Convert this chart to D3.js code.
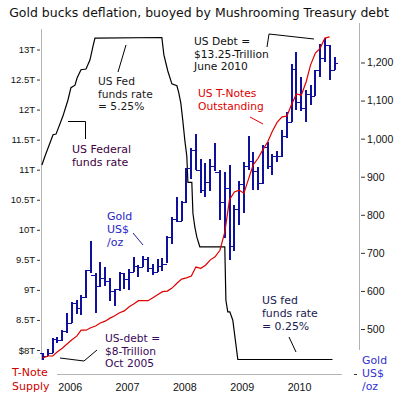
<!DOCTYPE html>
<html>
<head>
<meta charset="utf-8">
<script src="https://cdn.jsdelivr.net/npm/d3@7"></script>
<style>
body { margin: 0; background: #fff; }
svg { display: block; font-family: "DejaVu Sans", Verdana, sans-serif; }
</style>
</head>
<body>
<script>
// monthly gold bars, Jul 2005 .. Aug 2010
var goldOpen = [437, 429, 436, 473, 470, 495,
    517, 569, 556, 583, 654, 643, 614, 633, 625, 599, 604, 646,
    632, 651, 665, 663, 683, 659, 650, 665, 672, 742, 789, 783,
    834, 923, 971, 917, 864, 885, 929, 912, 834, 871, 718, 816,
    882, 927, 942, 916, 883, 979, 927, 955, 955, 1008, 1045, 1182,
    1096, 1081, 1118, 1113, 1179, 1212, 1245, 1181]
var goldHigh = [438, 447, 476, 479, 498, 541,
    572, 575, 589, 654, 730, 646, 676, 664, 634, 606, 649, 648,
    658, 690, 667, 691, 689, 671, 683, 686, 743, 795, 848, 836,
    924, 976, 1011, 946, 935, 946, 988, 917, 913, 930, 826, 889,
    938, 1007, 965, 926, 982, 990, 959, 967, 1023, 1070, 1195, 1227,
    1162, 1127, 1140, 1181, 1249, 1265, 1245, 1215]
var goldLow = [418, 430, 436, 463, 468, 489,
    517, 540, 538, 582, 647, 542, 610, 612, 573, 560, 600, 606,
    603, 649, 637, 663, 650, 642, 649, 653, 673, 723, 782, 784,
    832, 893, 917, 858, 848, 862, 915, 787, 740, 681, 705, 772,
    806, 918, 865, 866, 881, 919, 904, 939, 953, 1003, 1044, 1075,
    1073, 1044, 1088, 1113, 1162, 1202, 1155, 1180]
var goldClose = [429, 436, 473, 470, 495, 517,
    569, 556, 583, 654, 643, 614, 633, 625, 599, 604, 646, 632,
    651, 665, 663, 683, 659, 650, 665, 672, 742, 789, 783, 834,
    923, 971, 917, 864, 885, 929, 912, 834, 871, 718, 816, 882,
    927, 942, 916, 883, 979, 927, 955, 955, 1008, 1045, 1182, 1096,
    1081, 1118, 1113, 1179, 1212, 1245, 1181, 1200]

// T-note supply ($ trillion), monthly Jul 2005 .. Jul 2010
var noteSupply = [7.87, 7.90, 7.90, 7.97, 8.03, 8.10,
    8.17, 8.23, 8.33, 8.33, 8.37, 8.40, 8.45, 8.48, 8.53, 8.57, 8.62, 8.65,
    8.72, 8.77, 8.82, 8.82, 8.82, 8.87, 8.92, 8.97, 8.98, 9.03, 9.11, 9.18,
    9.20, 9.23, 9.38, 9.36, 9.41, 9.50, 9.55, 9.66, 9.96, 10.50, 10.63, 10.66,
    10.61, 10.86, 11.08, 11.19, 11.33, 11.46, 11.64, 11.79, 11.88, 11.89, 12.09, 12.26,
    12.24, 12.46, 12.74, 12.94, 13.02, 13.19, 13.21]

// fed funds rate path (%)
var fedDates = ['2005-07-08', '2005-07-28', '2005-09-17', '2005-10-06', '2005-11-19', '2005-12-21',
    '2006-01-09', '2006-02-04', '2006-02-17', '2006-03-14', '2006-04-15', '2006-05-10', '2006-05-30',
    '2006-06-11', '2007-08-11', '2007-08-24', '2007-09-18', '2007-10-14', '2007-11-15', '2007-11-27',
    '2007-12-10', '2007-12-23', '2008-01-05', '2008-01-17', '2008-01-24', '2008-02-18', '2008-02-25',
    '2008-03-08', '2008-03-21', '2008-04-09', '2008-09-15', '2008-09-22', '2008-10-04', '2008-10-17',
    '2008-11-05', '2008-12-07', '2010-08-02']
var fedRates = [3.27, 3.41, 3.74, 3.75, 4.03, 4.28,
    4.47, 4.51, 4.62, 4.75, 4.76, 4.90, 5.12,
    5.24, 5.25, 4.98, 4.73, 4.53, 4.50, 4.39,
    4.23, 3.95, 3.64, 3.41, 3.00, 3.00, 2.52,
    2.31, 2.15, 2.00, 2.00, 1.17, 0.99, 0.99,
    0.86, 0.25, 0.25]

var debtTicks = [8, 8.5, 9, 9.5, 10, 10.5, 11, 11.5, 12, 12.5, 13]
var goldTicks = [500, 600, 700, 800, 900, 1000, 1100, 1200]
var yearTicks = [2006, 2007, 2008, 2009, 2010]

var title = 'Gold bucks deflation, buoyed by Mushrooming Treasury debt'

var parse = d3.timeParse('%Y-%m-%d')
var goldDates = d3.range(goldHigh.length).map(function (i) { return new Date(2005, 6 + i, 15) })
var noteDates = d3.range(noteSupply.length).map(function (i) { return new Date(2005, 6 + i, 15) })

var x = d3.scaleTime().domain([new Date(2005, 6, 1), new Date(2010, 8, 1)]).range([40.8, 337.2])
var yDebt = d3.scaleLinear().domain([8, 13]).range([350, 49.5])
var yGold = d3.scaleLinear().domain([500, 1200]).range([329, 62.5])
var yFed = d3.scaleLinear().domain([0.25, 5.25]).range([359.5, 37.5])

var blue = '#10109f'
var red = '#e00000'

var svg = d3.select('body').append('svg')
    .attr('width', 401)
    .attr('height', 395)

// title, squeezed to the reference width
var tt = svg.append('text')
    .attr('x', 199).attr('y', 17)
    .attr('text-anchor', 'middle')
    .attr('fill', '#111')
    .style('font-size', '13px')
    .text(title)
var tw = tt.node().getComputedTextLength()
tt.style('font-size', (13 * 380 / tw) + 'px')

// frame lines
var frame = svg.append('g').attr('stroke', '#b4b4b4').attr('stroke-width', 1)
frame.append('line').attr('x1', 41.5).attr('x2', 41.5).attr('y1', 29).attr('y2', 360)
frame.append('line').attr('x1', 359.5).attr('x2', 359.5).attr('y1', 23).attr('y2', 350)
frame.append('line').attr('x1', 57).attr('x2', 342).attr('y1', 374.5).attr('y2', 374.5)

// left axis
var la = svg.append('g')
    .attr('transform', 'translate(40,0)')
    .call(d3.axisLeft(yDebt).tickValues(debtTicks).tickSize(3).tickPadding(2)
        .tickFormat(function (d) { return (d === 8 ? '$' : '') + d + 'T' }))
la.select('.domain').remove()
la.selectAll('text').style('font-size', '9.5px').style('font-family', null).attr('fill', '#111')
la.selectAll('line').attr('stroke', '#333')

// right axis
var ra = svg.append('g')
    .attr('transform', 'translate(361,0)')
    .call(d3.axisRight(yGold).tickValues(goldTicks).tickSize(4).tickPadding(2)
        .tickFormat(d3.format(',')))
ra.select('.domain').remove()
ra.selectAll('text').style('font-size', '10.5px').style('font-family', null).attr('fill', '#111')
ra.selectAll('line').attr('stroke', '#333')

// bottom axis (year labels)
var ba = svg.append('g')
    .attr('transform', 'translate(0,374)')
    .call(d3.axisBottom(x).tickValues(yearTicks.map(function (yr) { return new Date(yr, 0, 1) }))
        .tickSize(0).tickFormat(d3.timeFormat('%Y')))
ba.select('.domain').remove()
ba.selectAll('text').attr('y', 16.5).attr('dy', 0)
    .style('font-size', '10.7px').style('font-family', null).attr('fill', '#111')

// fed funds rate
var fedLine = d3.line()
    .x(function (d) { return x(d.date) })
    .y(function (d) { return yFed(d.rate) })
svg.append('path')
    .datum(fedDates.map(function (s, i) { return {date: parse(s), rate: fedRates[i]} }))
    .attr('d', fedLine)
    .attr('fill', 'none')
    .attr('stroke', '#000')
    .attr('stroke-width', 1.2)

// gold OHLC bars
var bars = svg.append('g')
    .attr('stroke', blue)
    .attr('shape-rendering', 'crispEdges')
var bar = bars.selectAll('g.bar')
    .data(goldDates.map(function (d, i) {
        return {date: d, o: goldOpen[i], h: goldHigh[i], l: goldLow[i], c: goldClose[i]}
    }))
    .enter()
    .append('g')
    .attr('class', 'bar')
bar.append('line')
    .attr('x1', function (d) { return Math.round(x(d.date)) })
    .attr('x2', function (d) { return Math.round(x(d.date)) })
    .attr('y1', function (d) { return yGold(d.h) })
    .attr('y2', function (d) { return yGold(d.l) })
    .attr('stroke-width', 2)
bar.append('line')
    .attr('x1', function (d) { return Math.round(x(d.date)) - 3 })
    .attr('x2', function (d) { return Math.round(x(d.date)) })
    .attr('y1', function (d) { return Math.round(yGold(d.o)) + 0.5 })
    .attr('y2', function (d) { return Math.round(yGold(d.o)) + 0.5 })
    .attr('stroke-width', 1)
bar.append('line')
    .attr('x1', function (d) { return Math.round(x(d.date)) })
    .attr('x2', function (d) { return Math.round(x(d.date)) + 3 })
    .attr('y1', function (d) { return Math.round(yGold(d.c)) + 0.5 })
    .attr('y2', function (d) { return Math.round(yGold(d.c)) + 0.5 })
    .attr('stroke-width', 1)

// T-note supply
var noteLine = d3.line()
    .x(function (d, i) { return x(noteDates[i]) })
    .y(function (d) { return yDebt(d) })
svg.append('path')
    .datum(noteSupply)
    .attr('d', noteLine)
    .attr('fill', 'none')
    .attr('stroke', red)
    .attr('stroke-width', 1.2)

// annotations
function label(lines, lx, ly, color, step, size) {
    var t = svg.append('text')
        .attr('x', lx).attr('y', ly)
        .attr('fill', color)
        .style('font-size', (size || 10.7) + 'px')
    lines.forEach(function (s, i) {
        t.append('tspan').attr('x', lx).attr('dy', i ? step : 0).text(s)
    })
}
function pointer(pts, color) {
    svg.append('path')
        .attr('d', d3.line()(pts))
        .attr('fill', 'none')
        .attr('stroke', color)
        .attr('stroke-width', 1)
}

label(['US Debt =', '$13.25-Trillion', 'June 2010'], 194, 45, '#111', 12.5)
label(['US Fed', 'funds rate', '= 5.25%'], 98, 85, '#1a1a1a', 12.5)
label(['US Federal', 'funds rate'], 72, 153, '#400040', 13, 11)
label(['US T-Notes', 'Outstanding'], 198, 97, red, 12.5)
label(['Gold', 'US$', '/oz'], 107, 220, '#2626c8', 13, 11)
label(['US-debt =', '$8-Trillion', 'Oct 2005'], 105, 342, '#3a0a5a', 12.5)
label(['US fed', 'funds rate', '= 0.25%'], 262, 304, '#1a1a50', 12.8, 10.9)
label(['T-Note', 'Supply'], 12, 376, '#d00000', 14, 11)
label(['Gold', 'US$', '/oz'], 362, 364, '#3030d0', 12.8, 10.9)

pointer([[267, 47], [269, 34], [314, 39]], '#000')
pointer([[126, 45], [118, 72]], '#000')
pointer([[68, 121.5], [85.5, 121.5], [85.5, 139]], '#000')
pointer([[250, 117], [263, 124]], red)
pointer([[133, 233], [143, 245]], '#2020a0')
pointer([[60, 358], [84, 361], [97, 350]], '#000')
pointer([[289, 337], [296, 352]], '#000')
pointer([[354, 374.5], [357, 374.5]], '#333')
</script>
</body>
</html>
